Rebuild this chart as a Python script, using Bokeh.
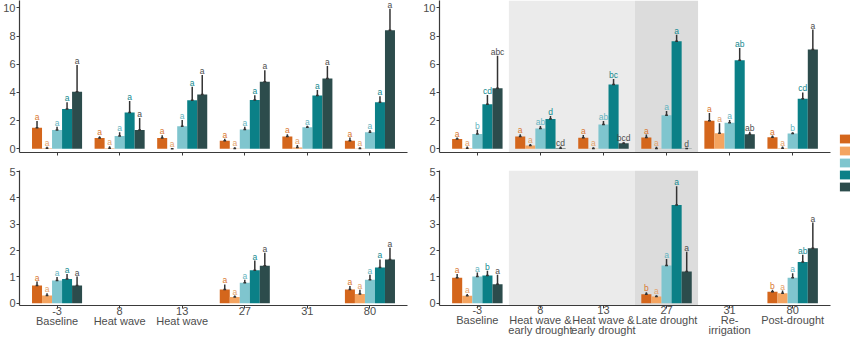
from bokeh.plotting import figure
from bokeh.layouts import row, column
from bokeh.models import (ColumnDataSource, Range1d, FixedTicker,
                          BoxAnnotation, Legend, LegendItem)
from bokeh.transform import dodge
from bokeh.core.properties import value
from bokeh.embed import file_html
from bokeh.resources import INLINE

# ---------------- data ----------------
days = ["-3", "8", "13", "27", "31", "80"]
treatments = ["T1", "T2", "T3", "T4", "T5"]

bar_colors = ["#d4661c", "#f4a460", "#7fc5ce", "#0b8087", "#2c4c4c"]
letter_colors = ["#d9772f", "#e3a26c", "#63b4c0", "#13898f", "#4d4d4d"]

# top-left panel (means and mean+se), rows = treatments, cols = days
tl_mean = [
    [1.49, 0.77, 0.77, 0.58, 0.87, 0.58],
    [0.04, 0.05, 0.00, 0.03, 0.10, 0.02],
    [1.33, 0.92, 1.61, 1.37, 1.54, 1.18],
    [2.82, 2.58, 3.45, 3.47, 3.78, 3.30],
    [4.05, 1.33, 3.86, 4.77, 4.99, 8.41],
]
tl_upper = [
    [1.98, 0.89, 0.96, 0.72, 1.04, 0.80],
    [0.14, 0.19, 0.05, 0.12, 0.27, 0.12],
    [1.57, 1.18, 2.05, 1.57, 1.64, 1.33],
    [3.30, 3.40, 4.41, 3.80, 4.17, 3.73],
    [5.95, 2.19, 5.25, 5.57, 5.88, 9.95],
]
tl_letters = [["a"] * 6 for _ in range(5)]

# top-right panel
tr_mean = [
    [0.69, 0.87, 0.78, 0.80, 2.00, 0.82],
    [0.05, 0.24, 0.02, 0.02, 1.10, 0.05],
    [1.06, 1.44, 1.73, 2.38, 1.86, 1.08],
    [3.17, 2.12, 4.56, 7.64, 6.28, 3.55],
    [4.30, 0.05, 0.40, 0.03, 1.04, 7.06],
]
tr_upper = [
    [0.80, 1.04, 0.99, 1.01, 2.54, 0.94],
    [0.16, 0.35, 0.12, 0.14, 1.81, 0.16],
    [1.35, 1.63, 1.98, 2.69, 2.05, 1.18],
    [3.83, 2.33, 4.96, 8.09, 7.15, 4.00],
    [6.60, 0.16, 0.47, 0.05, 1.22, 8.47],
]
tr_letters = [
    ["a", "a", "a", "a", "a", "a"],
    ["a", "a", "a", "a", "a", "a"],
    ["b", "ab", "ab", "a", "a", "b"],
    ["cd", "d", "bc", "a", "ab", "cd"],
    ["abc", "cd", "bcd", "d", "ab", "a"],
]

# bottom-left panel (None = not measured)
bl_mean = [
    [0.67, None, None, 0.52, None, 0.52],
    [0.29, None, None, 0.23, None, 0.35],
    [0.86, None, None, 0.77, None, 0.89],
    [0.92, None, None, 1.25, None, 1.35],
    [0.67, None, None, 1.42, None, 1.66],
]
bl_upper = [
    [0.82, None, None, 0.71, None, 0.65],
    [0.38, None, None, 0.29, None, 0.51],
    [0.99, None, None, 0.89, None, 1.08],
    [1.11, None, None, 1.62, None, 1.66],
    [1.01, None, None, 1.91, None, 2.10],
]
bl_letters = [["a"] * 6 for _ in range(5)]

# bottom-right panel
br_mean = [
    [0.96, None, None, 0.34, None, 0.43],
    [0.28, None, None, 0.25, None, 0.38],
    [1.01, None, None, 1.43, None, 0.96],
    [1.05, None, None, 3.73, None, 1.56],
    [0.72, None, None, 1.20, None, 2.09],
]
br_upper = [
    [1.11, None, None, 0.41, None, 0.51],
    [0.35, None, None, 0.30, None, 0.48],
    [1.16, None, None, 1.68, None, 1.14],
    [1.23, None, None, 4.44, None, 1.84],
    [1.08, None, None, 1.95, None, 3.06],
]
br_letters = [
    ["a", "", "", "b", "", "b"],
    ["a", "", "", "a", "", "a"],
    ["a", "", "", "a", "", "a"],
    ["b", "", "", "a", "", "ab"],
    ["a", "", "", "a", "", "a"],
]

left_labels = ["-3\nBaseline", "8\nHeat wave", "13\nHeat wave", "27", "31", "80"]
right_labels = ["-3\nBaseline", "8\nHeat wave &\nearly drought",
                "13\nHeat wave &\nearly drought", "27\nLate drought",
                "31\nRe-\nirrigation", "80\nPost-drought"]

shade_light = ["8", "13"]
shade_dark = ["27"]

top_ticks = [0, 2, 4, 6, 8, 10]
bottom_ticks = [0, 1, 2, 3, 4, 5]

FONT = "Liberation Sans"
AXIS_COL = "#3a3a3a"
TEXT_COL = "#4d4d4d"
offsets = [-0.32, -0.16, 0.0, 0.16, 0.32]
BAR_W = 0.16
pos = {d: i + 1 for i, d in enumerate(days)}   # discrete positions 1..6


def make_panel(mean, upper, letters, yr, yticks, labels, shade,
               width, height, mbl, mbr, mbt, mbb, standoff):
    p = figure(x_range=Range1d(0.4, len(days) + 0.6),
               y_range=Range1d(*yr), width=width, height=height,
               output_backend="svg", toolbar_location=None,
               min_border_left=mbl, min_border_right=mbr,
               min_border_top=mbt, min_border_bottom=mbb)
    p.outline_line_color = None
    p.xgrid.visible = False
    p.ygrid.visible = False
    p.background_fill_color = "white"

    if shade:
        for facs, col in ((shade_light, "#ebebeb"), (shade_dark, "#dcdcdc")):
            p.add_layout(BoxAnnotation(left=pos[facs[0]] - 0.5,
                                       right=pos[facs[-1]] + 0.5,
                                       fill_color=col, fill_alpha=1.0,
                                       line_color=None, level="underlay"))

    for i in range(5):
        keep = [j for j in range(6) if mean[i][j] is not None]
        src = ColumnDataSource(dict(
            x=[pos[days[j]] for j in keep],
            mean=[mean[i][j] for j in keep],
            upper=[upper[i][j] for j in keep],
            letter=[letters[i][j] for j in keep]))
        off = offsets[i]
        p.vbar(x=dodge("x", off), top="mean", bottom=0, width=BAR_W,
               fill_color=bar_colors[i], line_color=None, source=src)
        p.segment(x0=dodge("x", off), y0="mean", x1=dodge("x", off),
                  y1="upper", line_color="#333333", line_width=1.5,
                  source=src)
        p.segment(x0=dodge("x", off - 0.022), y0="mean",
                  x1=dodge("x", off + 0.022), y1="mean",
                  line_color="#333333", line_width=1.5, source=src)
        p.text(x=dodge("x", off), y="upper", text="letter",
               text_font=value(FONT), text_font_size="8.5px",
               text_align="center", text_baseline="alphabetic", y_offset=-4,
               text_color=letter_colors[i], source=src)

    for ax in (p.xaxis[0], p.yaxis[0]):
        ax.axis_line_color = AXIS_COL
        ax.axis_line_width = 1.2
        ax.major_tick_line_color = AXIS_COL
        ax.major_tick_line_width = 1
        ax.major_tick_in = 0
        ax.major_tick_out = 3
        ax.minor_tick_line_color = None
        ax.major_label_text_font = FONT
        ax.major_label_text_font_size = "11px"
        ax.major_label_text_color = TEXT_COL
    p.yaxis[0].ticker = FixedTicker(ticks=yticks)
    p.yaxis[0].major_label_standoff = 1
    p.xaxis[0].ticker = FixedTicker(ticks=[pos[d] for d in days])
    p.xaxis[0].major_label_standoff = standoff
    p.xaxis[0].major_label_text_line_height = 0.85
    p.xaxis[0].major_label_overrides = {
        pos[d]: lab for d, lab in zip(days, labels)}
    return p


empty = [""] * 6
tl = make_panel(tl_mean, tl_upper, tl_letters, (-0.26, 10.53), top_ticks,
                empty, False, 410, 165, 16, 3, 0, 13, 0)
tr = make_panel(tr_mean, tr_upper, tr_letters, (-0.26, 10.53), top_ticks,
                empty, True, 428, 165, 29, 8, 0, 13, 0)
bl = make_panel(bl_mean, bl_upper, bl_letters, (-0.09, 5.04), bottom_ticks,
                left_labels, False, 410, 176, 16, 3, 5, 36, -4)
br = make_panel(br_mean, br_upper, br_letters, (-0.09, 5.04), bottom_ticks,
                right_labels, True, 428, 176, 29, 8, 5, 36, -5)

# legend column (labels fall outside the picture, as in the source)
lg = figure(width=12, height=341, x_axis_type=None, y_axis_type=None,
            output_backend="svg", toolbar_location=None,
            min_border_left=0, min_border_right=0, min_border_top=0,
            min_border_bottom=0)
lg.outline_line_color = None
lg.xgrid.visible = False
lg.ygrid.visible = False
items = []
for t, c in zip(treatments, bar_colors):
    r = lg.vbar(x=[0], top=[0], width=0, fill_color=c, line_color=None)
    items.append(LegendItem(label=value(" "), renderers=[r]))
leg = Legend(items=items, location=(0, 149), glyph_width=14, glyph_height=11,
             label_height=11, label_width=0, label_standoff=0,
             label_text_font_size="8px", spacing=1, padding=0, margin=0,
             border_line_color=None, background_fill_alpha=0)
lg.add_layout(leg)

layout = row(column(tl, bl), column(tr, br), lg)
open("out.html", "w").write(file_html(layout, INLINE))
